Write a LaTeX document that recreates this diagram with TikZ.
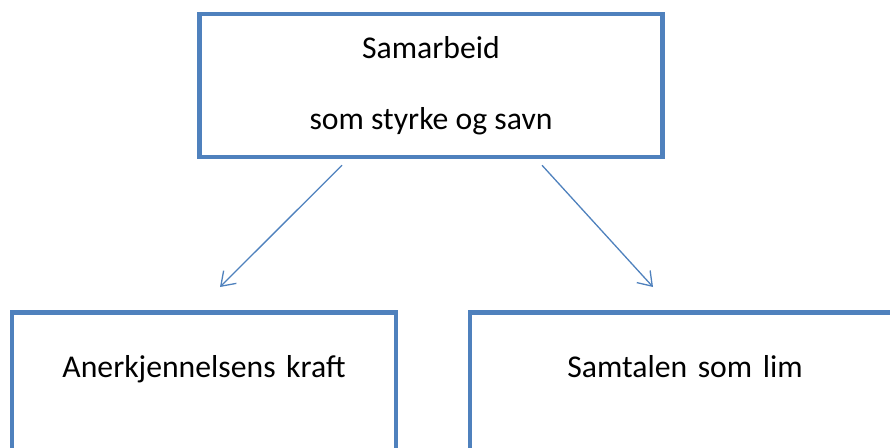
\documentclass[tikz,border=0pt]{standalone}
\usepackage{fontspec}
\setmainfont{Carlito}
\usetikzlibrary{positioning,arrows.meta}
\definecolor{boxblue}{HTML}{4F81BD}

\begin{document}
\begin{tikzpicture}[x=1pt,y=-1pt]
\useasboundingbox (0,0) rectangle (890,447);
\clip (0,0) rectangle (890,447);

\begin{scope}[every node/.style={rectangle,draw=boxblue,line width=4.5pt,inner sep=0pt,font=\fontsize{31.7}{35.5}\selectfont,align=center}]
	%Top
	\node[minimum width=463pt,minimum height=143pt] (samarbeid) at (431,85.5) {Samarbeid\\[35.5pt]som styrke og savn};
	
	%Bottom
	\node[anchor=north,text width=384pt,text height=65pt,text depth=95pt] (anerkjennelse) at (204,310) {Anerkjennelsens kraft};
	\node[anchor=north,text width=430pt,text height=65pt,text depth=95pt] (samtale) at (685,310) {Samtalen som lim};
\end{scope}

%Arrow ends
\coordinate[below left=6pt and 89pt of samarbeid.south] (start_l);
\coordinate[below right=6pt and 111pt of samarbeid.south] (start_r);
\coordinate[above right=23pt and 16pt of anerkjennelse.north] (end_l);
\coordinate[above left=23pt and 32pt of samtale.north] (end_r);

\begin{scope}[style={draw=boxblue,line width=1.3pt}]
	\draw [-{Straight Barb[length=13pt,width=18pt]}] (start_l) -- (end_l);
	\draw [-{Straight Barb[length=13pt,width=18pt]}] (start_r) -- (end_r);
\end{scope}

\end{tikzpicture}
\end{document}
